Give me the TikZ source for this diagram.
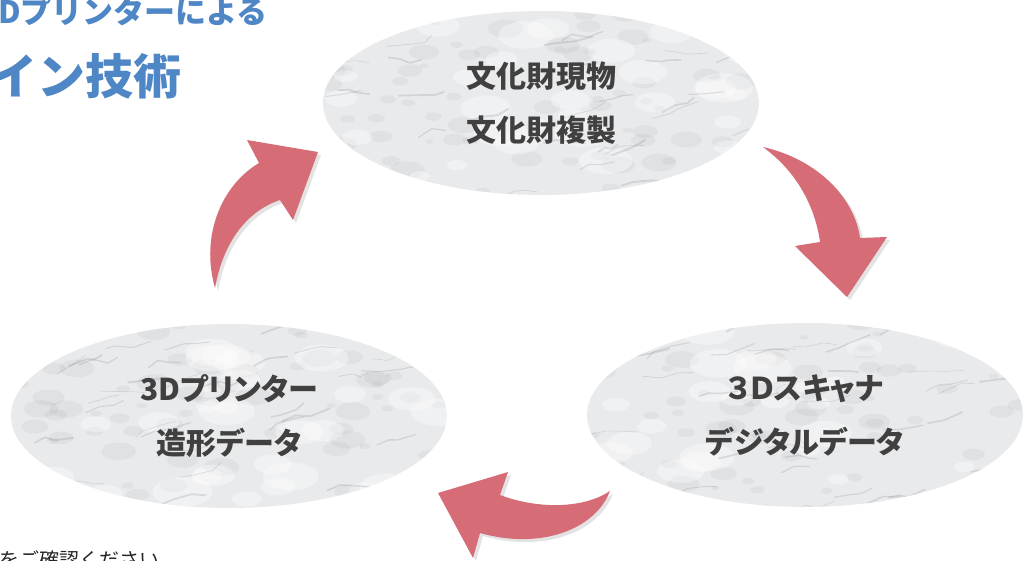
\documentclass[tikz,border=0pt]{standalone}
\usepackage{fontspec}
\newfontfamily\jp{Noto Sans CJK JP}[RawFeature=+palt]
\newfontfamily\jpw{Noto Sans CJK JP}
\usetikzlibrary{shapes.geometric,shadows,positioning}

\definecolor{ArrowRed}{RGB}{214,108,118}
\definecolor{StoneBase}{RGB}{233,234,236}
\definecolor{StoneVein}{RGB}{120,122,128}
\definecolor{TextGray}{RGB}{64,64,64}
\definecolor{TitleBlue}{RGB}{78,134,198}

% marble look inside the stone nodes
\newcommand\marblefill{%
  \fill[StoneBase] (path picture bounding box.south west) rectangle (path picture bounding box.north east);
  \foreach \k in {1,...,70}{
    \pgfmathsetmacro\mx{rnd*440-220}
    \pgfmathsetmacro\my{rnd*190-95}
    \pgfmathsetmacro\mr{4+rnd*14}
    \fill[StoneVein, opacity=0.08] ([shift={(\mx,\my)}]path picture bounding box.center) circle[x radius=\mr, y radius=0.5*\mr];
  }
  \foreach \k in {1,...,30}{
    \pgfmathsetmacro\mx{rnd*440-220}
    \pgfmathsetmacro\my{rnd*190-95}
    \pgfmathsetmacro\mr{10+rnd*20}
    \fill[white, opacity=0.35] ([shift={(\mx,\my)}]path picture bounding box.center) circle[x radius=\mr, y radius=0.5*\mr];
  }
  \foreach \k in {1,...,40}{
    \pgfmathsetmacro\mx{rnd*440-220}
    \pgfmathsetmacro\my{rnd*190-95}
    \pgfmathsetmacro\ax{6+rnd*14}
    \pgfmathsetmacro\ay{2-rnd*10}
    \pgfmathsetmacro\bx{6+rnd*14}
    \pgfmathsetmacro\by{4-rnd*10}
    \pgfmathsetmacro\cx{6+rnd*14}
    \pgfmathsetmacro\cy{2-rnd*10}
    \pgfmathsetmacro\lw{0.5+rnd*1.5}
    \draw[StoneVein, opacity=0.2, line width=\lw pt, line join=round] ([shift={(\mx,\my)}]path picture bounding box.center) -- ++(\ax,\ay) -- ++(\bx,\by) -- ++(\cx,\cy);
  }
}

\begin{document}
\begin{tikzpicture}[x=1pt,y=-1pt]
	\tikzstyle{Stone}	= [ellipse, minimum width=436pt, minimum height=184pt, inner sep=0pt, path picture={\marblefill}, text=TextGray, font=\jp\bfseries\fontsize{30}{54}\selectfont, align=center]
	\tikzstyle{Bend}	= [fill=ArrowRed, draw=none, drop shadow={shadow xshift=3pt, shadow yshift=-3pt, opacity=0.22}]
	\tikzstyle{Title}	= [text=TitleBlue, anchor=east, inner sep=0pt]

	\useasboundingbox (0,0) rectangle (1031,561);
	\clip (0,0) rectangle (1031,561);
	\pgfmathsetseed{11}

	\node [Title, font=\jpw\bfseries\fontsize{31}{36}\selectfont] (title1) at (268,11) {3Dプリンターによる};
	\node [Title, font=\jpw\bfseries\fontsize{48}{56}\selectfont] (title2) at (182,76) {デザイン技術};

	\node [Stone] (relic) at (541,103) {文化財現物\\文化財複製};
	\node [Stone] (scan) at (805,415) {３Ｄスキャナ\\デジタルデータ};
	\node [Stone] (print) at (229,416) {3Dプリンター\\造形データ};

	% curved arrows
	\fill [Bend] (215,288) .. controls (200,235) and (222,185) .. (259,163) -- (247,140) -- (318,152) -- (293,220) -- (280,200) .. controls (250,210) and (224,238) .. (215,288) -- cycle;
	\fill [Bend] (763,147) .. controls (820,160) and (855,200) .. (860,238) -- (887,237) -- (847,297) -- (795,246) -- (820,242) .. controls (815,205) and (795,170) .. (763,147) -- cycle;
	\fill [Bend] (610,491) .. controls (585,508) and (540,510) .. (500,495) -- (508,472) -- (438,493) -- (473,558) -- (480,533) .. controls (540,550) and (595,530) .. (610,491) -- cycle;

	\node [anchor=west, inner sep=0pt, text=black!85, font=\jpw\fontsize{20}{24}\selectfont] (note) at (-1,560) {をご確認ください};
\end{tikzpicture}
\end{document}
